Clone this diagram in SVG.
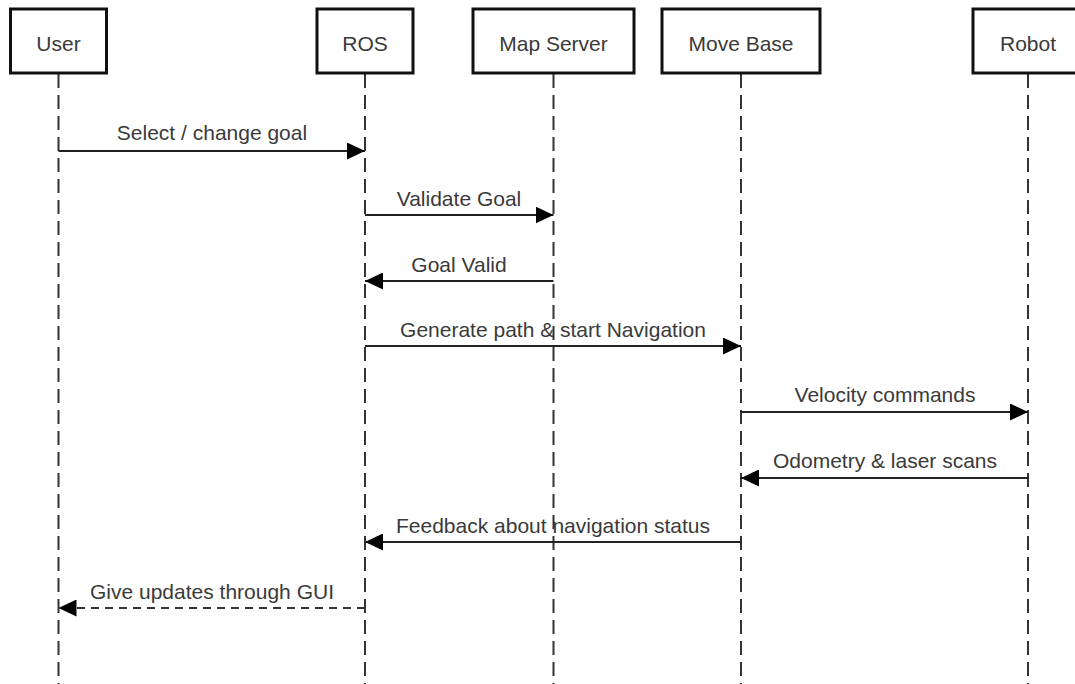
<svg xmlns="http://www.w3.org/2000/svg" width="1075" height="684" viewBox="0 0 1075 684">
<style>
.box{fill:#fff;stroke:#111;stroke-width:3}
.life{stroke:#333;stroke-width:2;stroke-dasharray:14 7;fill:none}
.msg{stroke:#222;stroke-width:2;fill:none}
.ret{stroke:#333;stroke-width:2;fill:none;stroke-dasharray:8 6}
text{font-family:"Liberation Sans",Arial,sans-serif;font-size:21px;fill:#3a3a3a;text-anchor:middle}
</style>
<defs>
<marker id="ah" viewBox="0 0 18 17" refX="18" refY="8.5" markerWidth="18" markerHeight="17" markerUnits="userSpaceOnUse" orient="auto">
<path d="M0,0 L18,8.5 L0,17 Z" fill="#000"/>
</marker>
</defs>
<rect width="1075" height="684" fill="#fff"/>
<g id="lifelines">
<line class="life" x1="58.5" y1="74" x2="58.5" y2="684"/>
<line class="life" x1="365" y1="74" x2="365" y2="684"/>
<line class="life" x1="553.5" y1="74" x2="553.5" y2="684"/>
<line class="life" x1="741" y1="74" x2="741" y2="684"/>
<line class="life" x1="1028" y1="74" x2="1028" y2="684"/>
</g>
<g id="user"><rect class="box" x="10.5" y="9" width="96" height="64"/><text x="58.5" y="51">User</text></g>
<g id="ros"><rect class="box" x="317" y="9" width="96" height="64"/><text x="365" y="51">ROS</text></g>
<g id="mapserver"><rect class="box" x="473" y="9" width="161" height="64"/><text x="553.5" y="51">Map Server</text></g>
<g id="movebase"><rect class="box" x="662" y="9" width="158" height="64"/><text x="741" y="51">Move Base</text></g>
<g id="robot"><rect class="box" x="973" y="9" width="110" height="64"/><text x="1028" y="51">Robot</text></g>
<g id="connectors">
<line class="msg" x1="58.5" y1="151" x2="365" y2="151" marker-end="url(#ah)"/>
<text x="212" y="140">Select / change goal</text>
<line class="msg" x1="365" y1="215" x2="553.5" y2="215" marker-end="url(#ah)"/>
<text x="459" y="206">Validate Goal</text>
<line class="msg" x1="553.5" y1="281" x2="365" y2="281" marker-end="url(#ah)"/>
<text x="459" y="272">Goal Valid</text>
<line class="msg" x1="365" y1="346" x2="741" y2="346" marker-end="url(#ah)"/>
<text x="553" y="337">Generate path &amp; start Navigation</text>
<line class="msg" x1="741" y1="412" x2="1028" y2="412" marker-end="url(#ah)"/>
<text x="885" y="402">Velocity commands</text>
<line class="msg" x1="1028" y1="478" x2="741" y2="478" marker-end="url(#ah)"/>
<text x="885" y="468">Odometry &amp; laser scans</text>
<line class="msg" x1="741" y1="542" x2="365" y2="542" marker-end="url(#ah)"/>
<text x="553" y="533">Feedback about navigation status</text>
<line class="ret" x1="365" y1="608" x2="58.5" y2="608" marker-end="url(#ah)"/>
<text x="212" y="599">Give updates through GUI</text>
</g>
</svg>
